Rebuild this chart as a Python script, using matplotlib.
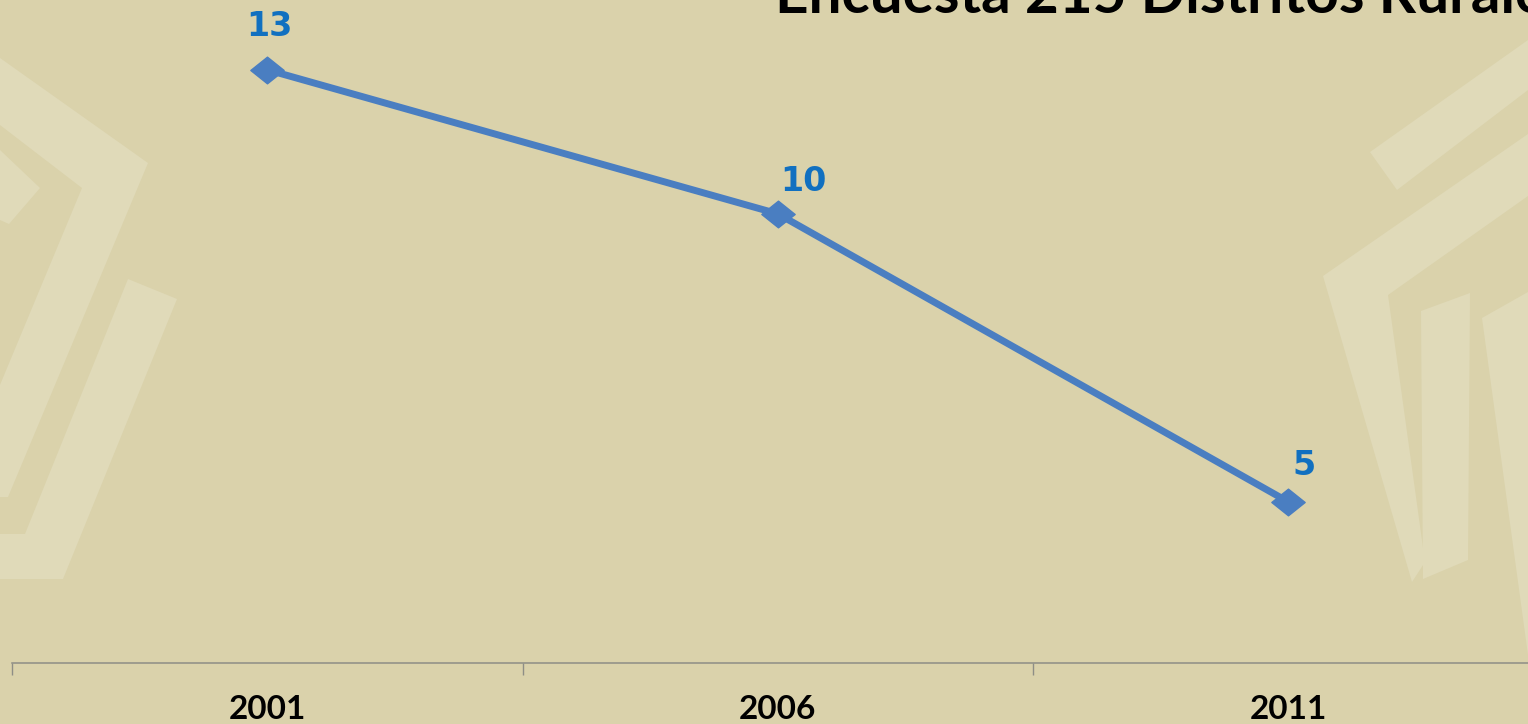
import matplotlib
matplotlib.use('Agg')
import matplotlib.pyplot as plt
from matplotlib.patches import Polygon
from matplotlib.path import Path

# data
years = ['2001', '2006', '2011']
values = [12.9, 10.3, 5.1]
title = 'Encuesta 215 Distritos Rurales'

bg = '#DAD2AB'
deco = '#E0DAB9'
line_blue = '#4A7EC1'
label_blue = '#1170C0'

W, H = 1528, 724
fig = plt.figure(figsize=(W / 100, H / 100), dpi=100, facecolor=bg)

# faint background decoration (pixel coords, y from top)
shapes = [
    [(0, 58), (148, 163), (8, 497), (0, 497), (0, 385), (82, 188), (0, 125)],
    [(0, 150), (40, 188), (9, 224), (0, 220)],
    [(128, 279), (177, 299), (63, 579), (0, 579), (0, 534), (25, 534)],
    [(1370, 152), (1528, 40), (1528, 90), (1397, 190)],
    [(1528, 134), (1323, 276), (1412, 582), (1425, 562), (1388, 295), (1528, 196)],
    [(1421, 311), (1470, 293), (1468, 560), (1423, 579)],
    [(1482, 318), (1528, 292), (1528, 655)],
]
for pts in shapes:
    fig.patches.append(Polygon([(x / W, 1 - y / H) for x, y in pts], closed=True,
                               transform=fig.transFigure, facecolor=deco,
                               edgecolor='none', zorder=-5))

ax = fig.add_axes([12 / W, (H - 663) / H, 1531.5 / W, 663 / H])
ax.set_facecolor('none')
ax.set_zorder(2)

x = list(range(len(years)))
diamond = Path([(-1, 0), (0, 0.8), (1, 0), (0, -0.8), (-1, 0)],
               [Path.MOVETO, Path.LINETO, Path.LINETO, Path.LINETO, Path.CLOSEPOLY])
ax.plot(x, values, color=line_blue, linewidth=5, marker=diamond, markersize=24,
        markerfacecolor=line_blue, markeredgecolor=line_blue, solid_joinstyle='round')

offsets = [(2, 43), (26, 32), (16, 36)]
for xi, v, off in zip(x, values, offsets):
    ax.annotate(f'{v:.0f}', (xi, v), xytext=off, textcoords='offset pixels',
                ha='center', va='center', color=label_blue, fontsize=24,
                fontweight='bold', family='DejaVu Sans')

ax.set_xlim(-0.5, 2.5)
ax.set_ylim(2.19, 14.16)
ax.set_xticks(x)
ax.set_xticklabels(years, fontsize=24, fontweight='bold', family='Lato')
ax.set_xticks([-0.5, 0.5, 1.5, 2.5], minor=True)
ax.tick_params(axis='x', which='major', length=0, pad=23)
ax.tick_params(axis='x', which='minor', length=8.6, width=1, color='#8E8E86')
ax.set_yticks([])
for s in ['top', 'right', 'left']:
    ax.spines[s].set_visible(False)
ax.spines['bottom'].set_color('#8E8E86')
ax.spines['bottom'].set_linewidth(1.1)

# title is partly above the top edge, as in the source slide
fig.text(775 / W, 1 - 13 / H, title, fontsize=42, fontweight='bold',
         family='Lato', va='baseline', ha='left', color='black')

fig.savefig('out.png', dpi=100, facecolor=bg)
